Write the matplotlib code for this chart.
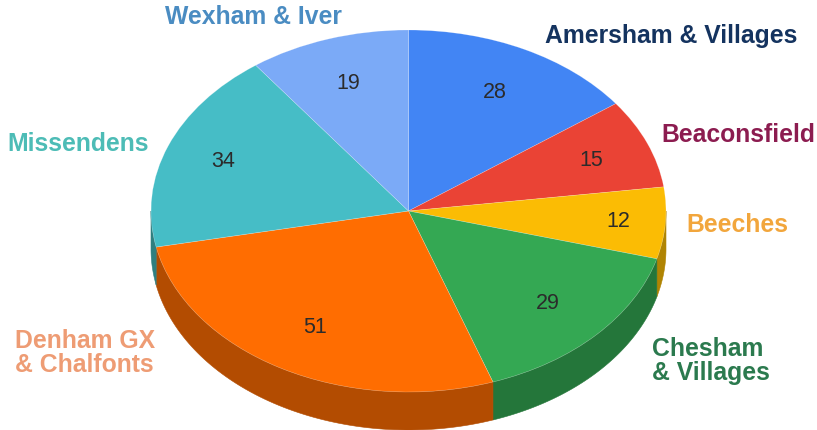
#!/usr/bin/env python3
"""3D-look pie of members by area."""

import matplotlib
matplotlib.use('Agg')
import matplotlib.pyplot as plt
import numpy as np

areas = ['Amersham & Villages', 'Beaconsfield', 'Beeches', 'Chesham\n& Villages',
         'Denham GX\n& Chalfonts', 'Missendens', 'Wexham & Iver']
counts = [28, 15, 12, 29, 51, 34, 19]

top_colors = ['#4285f4', '#ea4335', '#fbbc04', '#34a853', '#ff6d01', '#46bdc6', '#7baaf7']
side_colors = ['#2e5dab', '#a32f25', '#b08403', '#24763a', '#b34c01', '#2f7f80', '#5677ad']
label_colors = ['#14335f', '#8c1c50', '#f2a63c', '#2b7a4e', '#ee9c74', '#4dbcb6', '#4a8cc2']

W, H = 817, 431
CX, CY = 408.5, 212    # pie centre in pixels
RX, RY = 257.5, 181    # ellipse radii in pixels
DEPTH = 38 / RY

# where the value sits along each slice's middle, and where the area names go
value_r = [0.74, 0.765, 0.815, 0.74, 0.735, 0.77, 0.745]
name_pos = [(671, 36), (738, 135), (737, 225), (652, 361), (15, 353), (78, 144), (253, 17)]
name_align = ['center', 'center', 'center', 'left', 'left', 'center', 'center']


def main():
    plt.rcParams['font.family'] = ['Liberation Sans', 'DejaVu Sans']
    fig = plt.figure(figsize=(W / 100, H / 100), dpi=100)
    ax = fig.add_axes([0, 0, 1, 1])

    vals = np.array(counts, dtype=float)
    edges = np.concatenate([[0], np.cumsum(vals)]) / vals.sum() * 2 * np.pi

    # side wall, only the front half of the rim shows
    for a0, a1, col in zip(edges[:-1], edges[1:], side_colors):
        lo, hi = max(a0, np.pi / 2), min(a1, 3 * np.pi / 2)
        if lo >= hi:
            continue
        t = np.linspace(lo, hi, 80)
        x = np.sin(t)
        y = np.cos(t)
        ax.fill(np.r_[x, x[::-1]], np.r_[y, y[::-1] - DEPTH], color=col, lw=0.4)

    ax.pie(vals, colors=top_colors, startangle=90, counterclock=False, radius=1,
           wedgeprops={'edgecolor': '#ffffff50', 'linewidth': 0.4})

    mids = (edges[:-1] + edges[1:]) / 2
    for m, r, v in zip(mids, value_r, counts):
        ax.text(r * np.sin(m), r * np.cos(m), str(v), ha='center', va='center',
                fontsize=15.5, color='#2b2b2b')

    # pie() forces equal aspect, undo it to get the tilted ellipse
    ax.set_aspect('auto')
    ax.set_xlim(-CX / RX, (W - CX) / RX)
    ax.set_ylim((CY - H) / RY, CY / RY)

    for name, (px, py), col, ha in zip(areas, name_pos, label_colors, name_align):
        ax.text((px - CX) / RX, (CY - py) / RY, name, ha=ha, va='center', color=col,
                fontsize=17.8, fontweight='bold', linespacing=0.95)

    plt.savefig('out.png', dpi=100)
    plt.close()


if __name__ == '__main__':
    main()
